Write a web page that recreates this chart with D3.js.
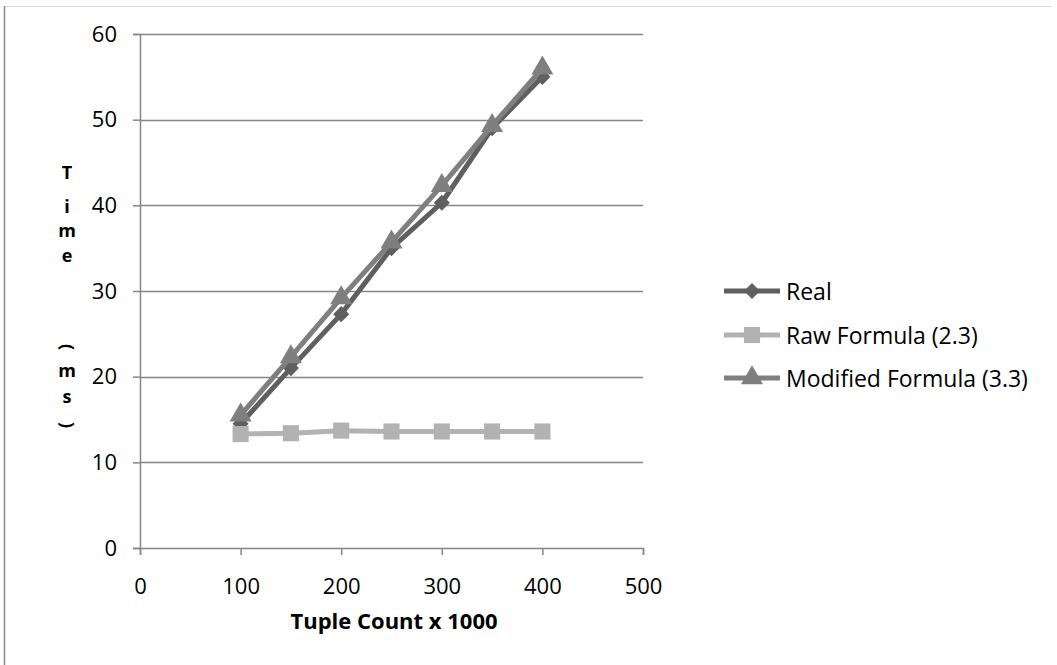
<!DOCTYPE html>
<html>
<head>
<meta charset="utf-8">
<script src="https://cdn.jsdelivr.net/npm/d3@7"></script>
<style>
  html, body { margin: 0; padding: 0; background: #fff; }
  svg { display: block; font-family: "Open Sans", "Noto Sans", sans-serif; }
</style>
</head>
<body>
<svg id="chart" width="1057" height="665"></svg>
<script>
const xValues = [100, 150, 200, 250, 300, 350, 400];
const realValues = [14.5, 21.0, 27.3, 35.0, 40.3, 49.0, 55.0];
const rawValues = [13.3, 13.4, 13.7, 13.6, 13.6, 13.6, 13.6];
const modifiedValues = [15.5, 22.3, 29.2, 35.7, 42.3, 49.3, 56.0];
const seriesNames = ["Real", "Raw Formula (2.3)", "Modified Formula (3.3)"];
const xTicks = [0, 100, 200, 300, 400, 500];
const yTicks = [0, 10, 20, 30, 40, 50, 60];
const xTitle = "Tuple Count x 1000";
const yTitleChars = ["T", "i", "m", "e", "(", "m", "s", ")"];

const svg = d3.select("#chart");
const W = 1057, H = 665;
const axisColor = "#868686";
const FONT = "'Open Sans', 'Noto Sans', sans-serif";

// outer frame
svg.append("line").attr("x1", 4).attr("x2", 1052).attr("y1", 6.5).attr("y2", 6.5)
  .attr("stroke", "#d9d9d9").attr("stroke-width", 1);
svg.append("line").attr("x1", 4.5).attr("x2", 4.5).attr("y1", 6).attr("y2", H)
  .attr("stroke", "#8c8c8c").attr("stroke-width", 1.5);

const x = d3.scaleLinear().domain([0, 500]).range([140, 643]);
const y = d3.scaleLinear().domain([0, 60]).range([548, 34]);

// gridlines
svg.append("g").selectAll("line").data(yTicks.filter(d => d > 0)).join("line")
  .attr("x1", x(0)).attr("x2", x(500))
  .attr("y1", d => Math.round(y(d)) + 0.5).attr("y2", d => Math.round(y(d)) + 0.5)
  .attr("stroke", axisColor).attr("stroke-width", 1.5);

// y axis
const yAxis = svg.append("g").attr("transform", `translate(${x(0)},0)`)
  .call(d3.axisLeft(y).tickValues(yTicks).tickSize(7).tickPadding(16).tickFormat(d3.format("d")));
yAxis.select(".domain").attr("stroke", axisColor).attr("stroke-width", 1.5);
yAxis.selectAll(".tick line").attr("stroke", axisColor).attr("stroke-width", 1.5);
yAxis.selectAll(".tick text").attr("fill", "#000").style("font-size", "22px")
  .style("font-family", FONT);

// x axis
const xAxis = svg.append("g").attr("transform", `translate(0,${y(0)})`)
  .call(d3.axisBottom(x).tickValues(xTicks).tickSize(7).tickPadding(23).tickFormat(d3.format("d")));
xAxis.select(".domain").attr("stroke", axisColor).attr("stroke-width", 1.5);
xAxis.selectAll(".tick line").attr("stroke", axisColor).attr("stroke-width", 1.5);
xAxis.selectAll(".tick text").attr("fill", "#000").style("font-size", "22px")
  .style("font-family", FONT);

// axis titles
svg.append("text").attr("x", 394).attr("y", 629).attr("text-anchor", "middle")
  .style("font-size", "22px").style("font-weight", "bold").style("font-family", FONT).text(xTitle);

// stacked y title, one text element
const yTitleCenters = [172, 206, 232, 257, 347, 372, 398, 425];
const ytText = svg.append("text").attr("text-anchor", "middle")
  .style("font-size", "18px").style("font-weight", "bold").style("font-family", FONT);
yTitleChars.forEach((c, i) => {
  const ts = ytText.append("tspan").text(c);
  if (c === "(" || c === ")") {
    ts.attr("x", 64).attr("y", yTitleCenters[i] - 3).attr("rotate", 90);
  } else {
    const off = (c === "T" || c === "i") ? 6.5 : 5;
    ts.attr("x", 67).attr("y", yTitleCenters[i] + off);
  }
});

// diamond: square rotated 45 degrees
const diamondSym = { draw(ctx, size) { const r = Math.sqrt(size / 2); ctx.moveTo(0, -r); ctx.lineTo(r, 0); ctx.lineTo(0, r); ctx.lineTo(-r, 0); ctx.closePath(); } };

// series
const series = [
  { name: seriesNames[0], values: realValues, color: "#5f5f5f", marker: diamondSym, size: 130 },
  { name: seriesNames[1], values: rawValues, color: "#b2b2b2", marker: d3.symbolSquare, size: 260 },
  { name: seriesNames[2], values: modifiedValues, color: "#7f7f7f", marker: d3.symbolTriangle, size: 210 }
];

const line = d3.line().x(d => x(d[0])).y(d => y(d[1]));
series.forEach(s => {
  const pts = xValues.map((v, i) => [v, s.values[i]]);
  const g = svg.append("g");
  g.append("path").datum(pts).attr("d", line).attr("fill", "none")
    .attr("stroke", s.color).attr("stroke-width", 5).attr("stroke-linejoin", "round");
  g.selectAll("path.m").data(pts).join("path").attr("class", "m")
    .attr("d", d3.symbol().type(s.marker).size(s.size))
    .attr("transform", d => `translate(${x(d[0])},${y(d[1])})`)
    .attr("fill", s.color);
});

// legend
const legendY = [291, 335, 378];
series.forEach((s, i) => {
  const g = svg.append("g").attr("transform", `translate(0,${legendY[i]})`);
  g.append("line").attr("x1", 724).attr("x2", 780).attr("y1", 0).attr("y2", 0)
    .attr("stroke", s.color).attr("stroke-width", 5);
  g.append("path").attr("d", d3.symbol().type(s.marker).size(s.size))
    .attr("transform", "translate(752,0)").attr("fill", s.color);
  g.append("text").attr("x", 786).attr("y", 0).attr("dominant-baseline", "central")
    .style("font-size", "23px").style("font-family", FONT).text(s.name);
});
</script>
</body>
</html>
